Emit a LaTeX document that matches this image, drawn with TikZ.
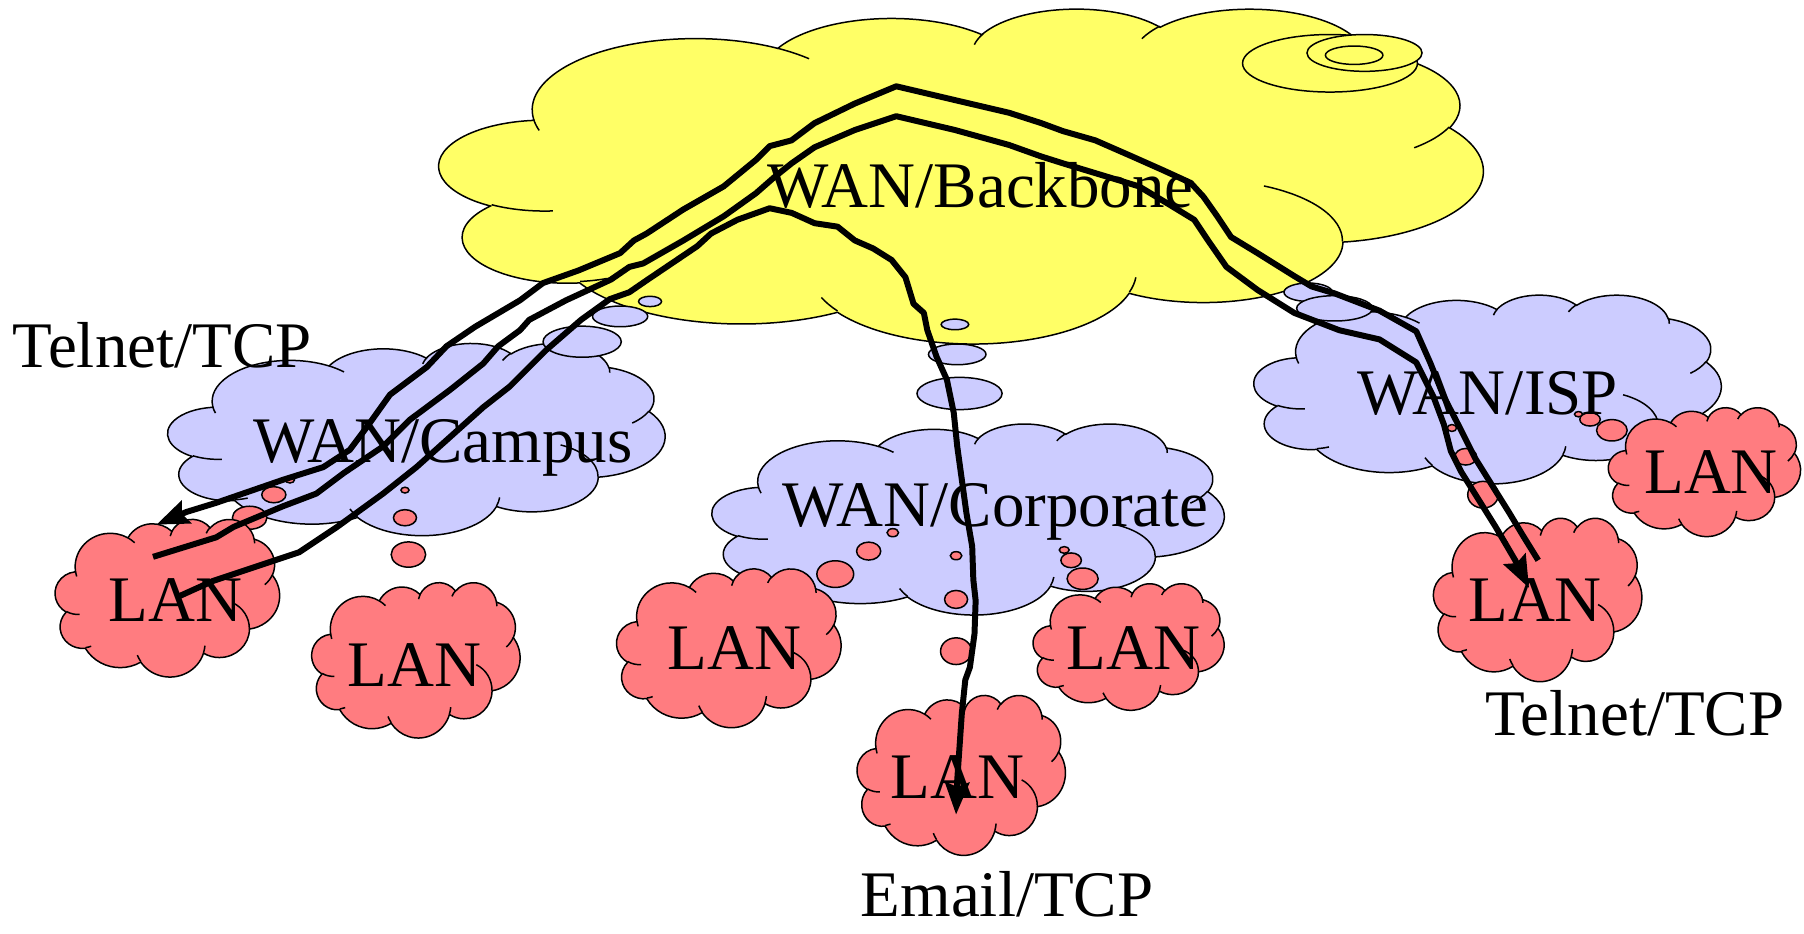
\documentclass[tikz,border=0pt]{standalone}
\usepackage{fontspec}
\setmainfont{Liberation Serif}
\usetikzlibrary{arrows.meta}
\definecolor{bbyellow}{HTML}{FFFF66}
\definecolor{wanblue}{HTML}{CCCCFF}
\definecolor{lanred}{HTML}{FF7C80}
\tikzset{
  cloudline/.style={draw=black,line width=1.3pt},
  lbl/.style={font=\fontsize{56.5}{62}\selectfont,inner sep=0pt,anchor=base west},
  conn/.style={line width=5.2pt,line join=round,-{Stealth[length=28pt,width=21pt,inset=4pt]}},
}
% Office-style cloud: x0, y0, width, height, colour
\newcommand{\ocloud}[5]{%
 \begin{scope}[shift={(#1,#2)},xscale=#3/432,yscale=#4/432]
  \path[cloudline,fill=#5] (39.00,143.70)
   arc[start angle=-187.746,end angle=-59.638,x radius=67.53,y radius=91.90]
   arc[start angle=-152.034,end angle=-45.455,x radius=53.33,y radius=72.67]
   arc[start angle=-153.492,end angle=-37.335,x radius=43.65,y radius=59.45]
   arc[start angle=-139.710,end angle=-10.212,x radius=48.57,y radius=65.95]
   arc[start angle=-74.769,end angle=23.212,x radius=53.33,y radius=72.73]
   arc[start angle=-37.507,end angle=81.862,x radius=67.75,y radius=92.20]
   arc[start angle=0.4596,end angle=121.98,x radius=57.85,y radius=78.67]
   arc[start angle=16.843,end angle=146.23,x radius=67.52,y radius=92.15]
   arc[start angle=58.988,end angle=150.19,x radius=77.20,y radius=105.43]
   arc[start angle=-276.693,end angle=-136.89,x radius=43.60,y radius=59.18]
   arc[start angle=-239.65,end angle=-95.887,x radius=43.45,y radius=59.45]
   -- cycle;
  \path[cloudline]
   (46.93,261.77) arc[start angle=85.547,end angle=120.35,x radius=43.45,y radius=59.45]
   (69.28,348.99) arc[start angle=68.235,end angle=83.307,x radius=43.60,y radius=59.18]
   (164.78,390.90) arc[start angle=146.23,end angle=158.474,x radius=67.52,y radius=92.15]
   (288.27,347.51) arc[start angle=4.738,end angle=16.843,x radius=67.52,y radius=92.15]
   (341.29,229.54) arc[start angle=-64.031,end angle=0.4596,x radius=57.85,y radius=78.67]
   (417.98,153.54) arc[start angle=23.212,end angle=49.641,x radius=53.33,y radius=72.73]
   (383.24,54.26) arc[start angle=-10.212,end angle=0.821,x radius=48.57,y radius=65.95]
   (290.78,39.52) arc[start angle=-156.287,end angle=-139.710,x radius=48.57,y radius=65.95]
   (221.41,47.20) arc[start angle=-167.726,end angle=-153.492,x radius=43.65,y radius=59.45]
   (140.00,51.92) arc[start angle=-59.638,end angle=-45.736,x radius=67.53,y radius=91.90]
   (41.27,157.89) arc[start angle=163.192,end angle=172.252,x radius=67.53,y radius=91.90];
 \end{scope}}
\newcommand{\bub}[5]{\path[cloudline,fill=#5] (#1,#2) ellipse[x radius=#3,y radius=#4];}

\begin{document}
\begin{tikzpicture}[x=1pt,y=-1pt]
\useasboundingbox (0,0) rectangle (1568,811);

% backbone cloud with its inner tail ellipses
\ocloud{382}{7}{907}{291}{bbyellow}
\bub{1156}{55}{76}{25}{bbyellow}
\bub{1186}{46}{50}{16}{bbyellow}
\bub{1177}{48}{25}{8}{bbyellow}

% WAN clouds and their tails
\ocloud{146}{298}{432}{167}{wanblue}
\bub{565}{262}{10}{4.5}{wanblue}
\bub{539}{275}{24}{9}{wanblue}
\bub{506}{297}{34}{13.5}{wanblue}

\ocloud{619}{368}{445}{166}{wanblue}
\bub{830}{282}{12}{4.6}{wanblue}
\bub{832}{308}{25}{9}{wanblue}
\bub{834}{342}{37}{14}{wanblue}

\ocloud{1090}{256}{406}{164}{wanblue}
\bub{1137}{254}{21}{8}{wanblue}
\bub{1160}{268}{33}{11}{wanblue}

% LAN clouds and their tails
\bub{252}{417}{4}{2.8}{lanred}
\bub{238}{430}{10.5}{7}{lanred}
\bub{217}{450}{15}{10}{lanred}
\ocloud{48}{451}{195}{137}{lanred}

\bub{352}{426}{3.5}{2.5}{lanred}
\bub{352}{450}{10}{7}{lanred}
\bub{355}{482}{15}{11}{lanred}
\ocloud{271}{506}{181}{135}{lanred}

\bub{776}{463}{5}{3.5}{lanred}
\bub{755}{479}{10.5}{7.8}{lanred}
\bub{726}{499}{16}{11.6}{lanred}
\ocloud{536}{494}{195}{138}{lanred}

\bub{925}{478}{4.3}{2.9}{lanred}
\bub{931}{487}{8.9}{6.4}{lanred}
\bub{941}{503}{13.5}{9.3}{lanred}
\ocloud{898}{507}{166}{110}{lanred}

\bub{831}{483}{5}{3.5}{lanred}
\bub{831}{521}{10}{7.8}{lanred}
\bub{831}{566}{13.5}{11.6}{lanred}
\ocloud{745}{604}{181}{139}{lanred}

\bub{1262}{372}{4}{3}{lanred}
\bub{1274}{397}{9.5}{7.2}{lanred}
\bub{1289}{430}{13.3}{11.6}{lanred}
\ocloud{1246}{450}{181}{142}{lanred}

\bub{1372}{360}{3.5}{2.3}{lanred}
\bub{1382}{364.5}{8.9}{5.8}{lanred}
\bub{1401}{374}{13.3}{9.3}{lanred}
\ocloud{1398}{354}{167}{112}{lanred}

% labels
\node[lbl] (tcpTL) at (11,319) {Telnet/TCP};
\node[lbl] (bbtxt) at (667,180) {WAN/Backbone};
\node[lbl] (camptxt) at (220,402) {WAN/Campus};
\node[lbl] (corptxt) at (680,458) {WAN/Corporate};
\node[lbl] (isptxt) at (1180,360) {WAN/ISP};
\node[lbl] (lanA) at (94,540) {LAN};
\node[lbl] (lanB) at (302,597) {LAN};
\node[lbl] (lanC) at (580,582) {LAN};
\node[lbl] (lanD) at (927,582) {LAN};
\node[lbl] (lanE) at (774,694) {LAN};
\node[lbl] (lanF) at (1276,540) {LAN};
\node[lbl] (lanG) at (1429,429) {LAN};
\node[lbl] (mailtxt) at (748,797) {Email/TCP};
\node[lbl] (tcpBR) at (1291,639) {Telnet/TCP};

% connector end points
\coordinate (t1s) at (1337,487);
\coordinate (t1e) at (136,456);
\coordinate (t2s) at (133,484);
\coordinate (t2e) at (1329,511);
\coordinate (ems) at (154,519);
\coordinate (eme) at (831,708);

% Telnet (right LAN to left LAN)
\draw[conn] (t1s) -- (1324,466) -- (1312,446) -- (1297,422) -- (1282,398) -- (1270,374)
 -- (1255,345) -- (1243,315) -- (1231,288) -- (1199,270) -- (1160,255) -- (1140,249)
 -- (1125,240) -- (1093,220) -- (1070,206) -- (1058,188) -- (1046,171) -- (1035,159)
 -- (1011,148) -- (984,136) -- (952,122) -- (924,114) -- (905,107) -- (877,98)
 -- (830,87) -- (779,75) -- (743,90) -- (708,107) -- (688,122) -- (669,127) -- (657,139)
 -- (629,162) -- (594,182) -- (562,203) -- (551,209) -- (539,220) -- (503,235)
 -- (472,246) -- (452,261) -- (413,284) -- (388,301) -- (371,319) -- (339,343)
 -- (319,371) -- (304,391) -- (281,406) -- (246,417) -- (188,437) -- (162,445) -- (t1e);

% Telnet (left LAN to right LAN)
\draw[conn] (t2s) -- (188,467) -- (203,458) -- (246,440) -- (275,429) -- (299,411)
 -- (333,388) -- (356,365) -- (391,339) -- (420,316) -- (433,301) -- (452,287)
 -- (460,278) -- (492,261) -- (531,243) -- (547,232) -- (559,229) -- (594,209)
 -- (629,188) -- (657,168) -- (673,154) -- (688,142) -- (708,128) -- (743,113)
 -- (779,101) -- (830,113) -- (877,126) -- (905,136) -- (924,142) -- (990,162)
 -- (1015,177) -- (1038,191) -- (1050,209) -- (1066,232) -- (1093,252) -- (1125,272)
 -- (1164,287) -- (1199,295) -- (1231,315) -- (1246,345) -- (1255,369) -- (1261,392)
 -- (1270,410) -- (1285,434) -- (1300,458) -- (1317,487) -- (t2e);

% Email (left LAN to bottom LAN)
\draw[conn] (ems) -- (185,505) -- (230,490) -- (260,480) -- (293,458) -- (333,429)
 -- (362,406) -- (391,380) -- (420,354) -- (443,336) -- (475,304) -- (505,278)
 -- (530,260) -- (547,254) -- (563,243) -- (606,214) -- (618,203) -- (641,191)
 -- (669,181) -- (688,185) -- (708,194) -- (728,197) -- (743,209) -- (759,216)
 -- (775,226) -- (787,241) -- (794,264) -- (803,272) -- (806,287) -- (814,310)
 -- (823,330) -- (829,359) -- (832,388) -- (836,417) -- (840,446) -- (845,475)
 -- (846,504) -- (848,522) -- (847,551) -- (843,580) -- (839,591) -- (836,620)
 -- (834,649) -- (832,678) -- (eme);
\end{tikzpicture}
\end{document}
